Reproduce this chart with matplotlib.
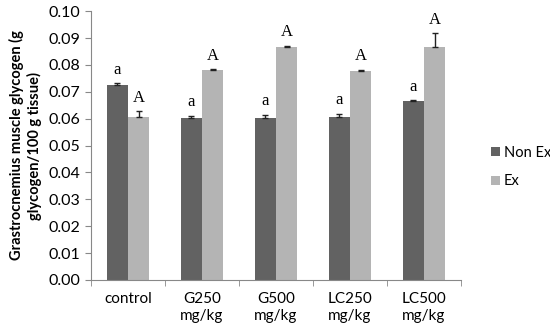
import matplotlib
matplotlib.use('Agg')
import matplotlib.pyplot as plt
import numpy as np

groups = ['control', 'G250\nmg/kg', 'G500\nmg/kg', 'LC250\nmg/kg', 'LC500\nmg/kg']
non_ex = [0.0727, 0.0603, 0.0603, 0.0605, 0.0664]
non_ex_err = [0.0005, 0.0008, 0.0012, 0.0013, 0.0004]
ex = [0.0605, 0.0780, 0.0867, 0.0778, 0.0867]
ex_err = [0.0022, 0.0005, 0.0005, 0.0004, 0.0050]
non_ex_letters = ['a', 'a', 'a', 'a', 'a']
ex_letters = ['A', 'A', 'A', 'A', 'A']

dark = '#626262'
light = '#b4b4b4'

fig = plt.figure(figsize=(5.5, 3.34), dpi=100)
ax = fig.add_axes([0.1655, 0.1617, 0.6727, 0.805])

x = np.arange(len(groups))
w = 0.29
ax.bar(x - w/2, non_ex, w, color=dark, label='Non Ex')
ax.bar(x + w/2, ex, w, color=light, label='Ex')
ax.errorbar(x - w/2, non_ex, yerr=[[0]*5, non_ex_err], fmt='none',
            ecolor='#222222', elinewidth=1, capsize=2.5, capthick=1)
ax.errorbar(x + w/2, ex, yerr=[[0]*5, ex_err], fmt='none',
            ecolor='#222222', elinewidth=1, capsize=2.5, capthick=1)

for i in range(len(groups)):
    ax.text(x[i] - w/2, non_ex[i] + non_ex_err[i] + 0.002, non_ex_letters[i],
            ha='center', va='bottom', fontsize=12, family='Liberation Serif')
    ax.text(x[i] + w/2, ex[i] + ex_err[i] + 0.002, ex_letters[i],
            ha='center', va='bottom', fontsize=12, family='Liberation Serif')

ax.set_xlim(-0.5, 4.5)
ax.set_ylim(0, 0.10)
ax.set_yticks(np.arange(0, 0.101, 0.01))
ax.set_yticklabels([f'{v:.2f}' for v in np.arange(0, 0.101, 0.01)],
                   fontsize=11.5, family='Lato')
ax.set_xticks(x)
ax.set_xticklabels(groups, fontsize=11, family='Lato')
ax.set_xticks(np.arange(-0.5, 5, 1), minor=True)
ax.tick_params(axis='x', which='major', length=0, pad=9)
ax.tick_params(axis='x', which='minor', length=4, direction='out', color='#888888')
ax.tick_params(axis='y', length=4, color='#888888')
for s in ['top', 'right']:
    ax.spines[s].set_visible(False)
for s in ['left', 'bottom']:
    ax.spines[s].set_color('#888888')

ax.set_ylabel('Grastrocnemius muscle glycogen (g\nglycogen/100 g tissue)',
              fontsize=10.5, fontweight='bold', family='Lato', labelpad=5)

fig.legend(loc='center left', bbox_to_anchor=(0.893, 0.5), frameon=False,
           prop={'family': 'Lato', 'size': 10.5}, handlelength=0.6,
           handleheight=0.6, handletextpad=0.25, labelspacing=1.0,
           borderpad=0, borderaxespad=0)

plt.savefig('out.png', dpi=100)
